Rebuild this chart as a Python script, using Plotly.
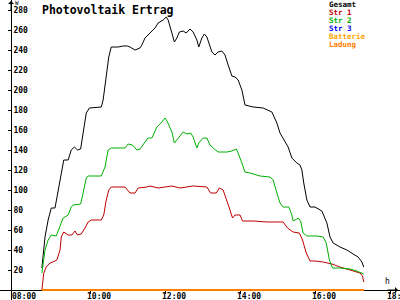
import plotly.graph_objects as go

DAY = "2024-06-01 "

title_text = "Photovoltaik Ertrag"
legend_names = ["Gesamt", "Str 1", "Str 2", "Str 3", "Batterie", "Ladung"]
legend_colors = ["#000000", "#c00000", "#00b000", "#0000ff", "#ffa500", "#ff8000"]

x_tick_labels = ["08:00", "10:00", "12:00", "14:00", "16:00", "18:00"]
y_tick_values = [20, 40, 60, 80, 100, 120, 140, 160, 180, 200, 220, 240, 260, 280]

gesamt_t = ["08:43", "08:46", "08:48", "08:53", "08:58", "09:04", "09:09", "09:14", "09:18", "09:25",
            "09:30", "09:35", "09:40", "09:45", "09:49", "09:54", "09:59", "10:18", "10:21", "10:26",
            "10:30", "10:34", "10:45", "10:53", "11:00", "11:04", "11:12", "11:20", "11:23", "11:28",
            "11:36", "11:44", "11:49", "11:57", "12:02", "12:05", "12:11", "12:15", "12:19", "12:23",
            "12:29", "12:34", "12:40", "12:45", "12:51", "12:54", "12:59", "13:03", "13:07", "13:11",
            "13:15", "13:20", "13:25", "13:31", "13:36", "13:41", "13:47", "13:52", "13:57", "14:03",
            "14:08", "14:21", "14:37", "14:51", "14:59", "15:04", "15:09", "15:17", "15:23", "15:31",
            "15:36", "15:39", "15:42", "15:47", "15:52", "16:00", "16:11", "16:19", "16:24", "16:29",
            "16:40", "16:51", "17:01", "17:09", "17:15", "17:18"]
gesamt_w = [22, 40, 53, 70, 82, 82, 100, 117, 130, 130,
            140, 143, 140, 141, 157, 177, 182, 183, 190, 213,
            233, 243, 243, 244, 244, 243, 240, 242, 245, 252,
            257, 262, 267, 270, 273, 270, 257, 248, 252, 258,
            259, 257, 261, 258, 250, 243, 252, 256, 253, 245,
            238, 235, 238, 239, 235, 225, 214, 213, 210, 200,
            185, 183, 182, 178, 167, 157, 152, 143, 132, 127,
            125, 120, 107, 90, 83, 83, 79, 67, 53, 47,
            43, 40, 36, 33, 28, 23]

str1_t = ["08:43", "08:46", "08:50", "08:56", "09:04", "09:07", "09:12", "09:14", "09:18", "09:25",
          "09:31", "09:36", "09:40", "09:46", "09:52", "09:57", "10:02", "10:18", "10:22", "10:26",
          "10:30", "10:34", "10:56", "11:04", "11:12", "11:17", "11:31", "11:36", "11:49", "12:00",
          "12:11", "12:24", "12:35", "12:45", "13:07", "13:13", "13:22", "13:27", "13:33", "13:39",
          "13:44", "13:48", "13:52", "14:00", "14:04", "14:21", "14:43", "15:09", "15:16", "15:25",
          "15:35", "15:40", "15:46", "15:52", "16:00", "16:13", "16:27", "16:40", "16:56", "17:12",
          "17:16", "17:18"]
str1_w = [0, 17, 23, 27, 29, 30, 40, 53, 58, 55,
          55, 59, 55, 56, 62, 68, 70, 70, 75, 90,
          100, 103, 103, 97, 97, 102, 103, 104, 102, 103,
          104, 102, 103, 104, 103, 97, 97, 102, 100, 90,
          80, 72, 75, 75, 69, 69, 68, 68, 62, 58,
          57, 50, 37, 29, 29, 28, 26, 23, 20, 17,
          14, 8]

str2_t = ["08:43", "08:45", "08:48", "08:53", "08:58", "09:06", "09:12", "09:17", "09:25", "09:30",
          "09:33", "09:45", "09:49", "09:54", "09:57", "10:18", "10:24", "10:29", "10:34", "10:56",
          "11:01", "11:08", "11:15", "11:20", "11:28", "11:33", "11:39", "11:47", "11:55", "12:00",
          "12:04", "12:11", "12:15", "12:21", "12:29", "12:35", "12:41", "12:45", "12:51", "12:54",
          "13:01", "13:07", "13:12", "13:19", "13:25", "13:39", "13:47", "13:54", "13:57", "14:03",
          "14:08", "14:16", "14:32", "14:48", "14:53", "14:59", "15:04", "15:09", "15:18", "15:23",
          "15:25", "15:31", "15:33", "15:37", "15:41", "15:47", "16:03", "16:13", "16:18", "16:23",
          "16:28", "16:40", "16:56", "17:07", "17:15", "17:18"]
str2_w = [17, 27, 40, 50, 55, 54, 63, 72, 75, 83,
          85, 86, 97, 112, 114, 114, 123, 140, 142, 142,
          146, 145, 140, 141, 148, 152, 152, 163, 168, 172,
          168, 158, 147, 152, 158, 156, 157, 153, 142, 147,
          152, 152, 145, 141, 138, 138, 139, 141, 137, 127,
          118, 117, 114, 113, 110, 97, 87, 83, 83, 75,
          69, 71, 72, 69, 57, 54, 54, 53, 47, 30,
          22, 22, 21, 19, 17, 16]

str3_t = ["08:43", "17:18"]
str3_w = [0, 0]
batterie_t = ["08:43", "17:18"]
batterie_w = [0, 0]
ladung_t = ["08:43", "17:18"]
ladung_w = [0, 0]

FONT = "DejaVu Sans Mono"

series = [
    (gesamt_t, gesamt_w, 1),
    (str1_t, str1_w, 1),
    (str2_t, str2_w, 1),
    (str3_t, str3_w, 1),
    (batterie_t, batterie_w, 2),
    (ladung_t, ladung_w, 2),
]

fig = go.Figure()
for (t, w, lw), name, col in zip(series, legend_names, legend_colors):
    fig.add_trace(go.Scatter(
        x=[DAY + s for s in t], y=w, mode="lines", name=name,
        line=dict(color=col, width=lw), hoverinfo="skip"))

W, H = 400, 300
x_axis_px = 11
y_axis_px = 290

fig.update_layout(
    width=W, height=H,
    margin=dict(l=0, r=0, t=0, b=0),
    paper_bgcolor="white", plot_bgcolor="white",
    showlegend=False,
    xaxis=dict(
        type="date",
        range=[DAY + "07:36", DAY + "18:16"],
        anchor="free", position=(H - y_axis_px) / H,
        showline=True, linecolor="black", linewidth=1,
        ticks="outside", ticklen=3, tickcolor="black", tickwidth=1,
        tickvals=[DAY + s for s in x_tick_labels], ticktext=x_tick_labels,
        showticklabels=False,
        showgrid=False, zeroline=False, layer="below traces",
        fixedrange=True,
    ),
    yaxis=dict(
        range=[-10, 290],
        anchor="free", position=x_axis_px / W,
        showline=True, linecolor="black", linewidth=1,
        ticks="outside", ticklen=3, tickcolor="black", tickwidth=1,
        tickvals=y_tick_values,
        ticklabelposition="inside",
        tickfont=dict(family=FONT, size=8, color="black", weight="bold"),
        showgrid=False, zeroline=False, layer="below traces",
        fixedrange=True,
    ),
)

annotations = [
    dict(text="<b>" + title_text + "</b>", x=40 / W, y=1 - 1 / H, xref="paper", yref="paper",
         xanchor="left", yanchor="top", showarrow=False,
         font=dict(family=FONT, size=11.5, color="black")),
    # axis arrows
    dict(text="", x=x_axis_px / W, y=1, xref="paper", yref="paper",
         ax=0, ay=12, showarrow=True, arrowhead=1, arrowsize=1, arrowwidth=1, arrowcolor="black"),
    dict(text="", x=398 / W, y=(H - y_axis_px) / H, xref="paper", yref="paper",
         ax=-12, ay=0, showarrow=True, arrowhead=1, arrowsize=1, arrowwidth=1, arrowcolor="black"),
    dict(text="W", x=17 / W, y=1 - 2.5 / H, xref="paper", yref="paper",
         xanchor="center", yanchor="middle", showarrow=False, borderpad=0,
         font=dict(family=FONT, size=6, color="black")),
    dict(text="h", x=387 / W, y=1 - 281.5 / H, xref="paper", yref="paper",
         xanchor="center", yanchor="middle", showarrow=False,
         font=dict(family=FONT, size=8, color="black")),
]
# x tick labels, placed at the tick values through the x axis scale
for lab in x_tick_labels:
    annotations.append(dict(
        text="<b>" + lab + "</b>", x=DAY + lab, xref="x", y=1 - 296.5 / H, yref="paper",
        xanchor="center", yanchor="middle", xshift=8.5, showarrow=False, borderpad=0,
        font=dict(family=FONT, size=8, color="black")))
for i, (name, col) in enumerate(zip(legend_names, legend_colors)):
    annotations.append(dict(
        text="<b>" + name + "</b>", x=328 / W, y=1 - (4.5 + 8 * i) / H, xref="paper", yref="paper",
        xanchor="left", yanchor="middle", showarrow=False, borderpad=0,
        font=dict(family=FONT, size=7.5, color=col)))

fig.update_layout(annotations=annotations)

fig.write_html("out.html")
